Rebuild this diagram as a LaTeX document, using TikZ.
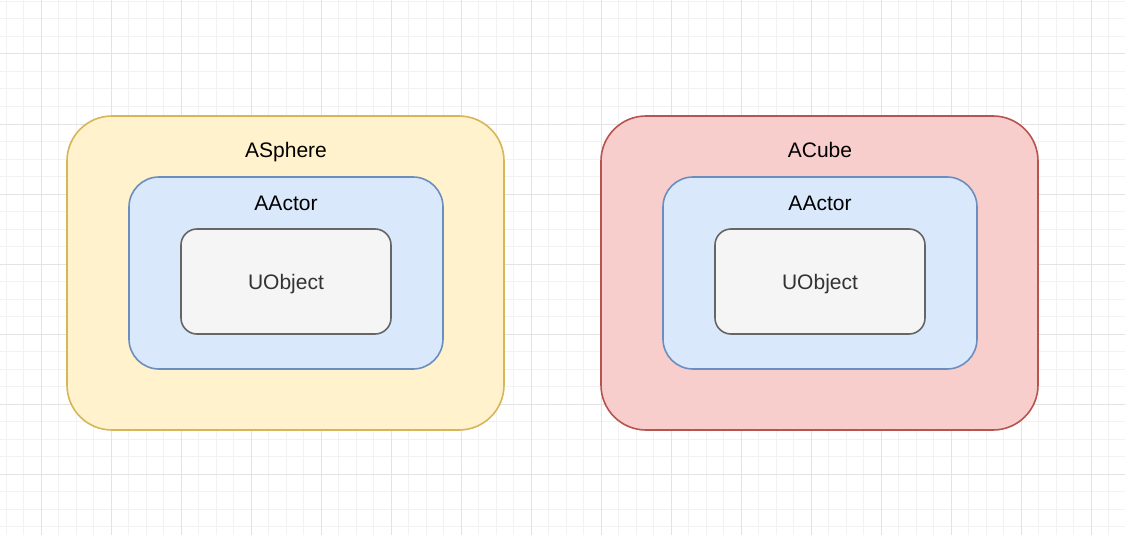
\documentclass[tikz,border=0pt]{standalone}
\usepackage{fontspec}
\setmainfont{Liberation Sans}
\definecolor{yfill}{HTML}{FFF2CC}
\definecolor{ydraw}{HTML}{D6B656}
\definecolor{bfill}{HTML}{DAE8FC}
\definecolor{bdraw}{HTML}{6C8EBF}
\definecolor{gfill}{HTML}{F5F5F5}
\definecolor{gdraw}{HTML}{666666}
\definecolor{gtext}{HTML}{333333}
\definecolor{rfill}{HTML}{F8CECC}
\definecolor{rdraw}{HTML}{B85450}
\definecolor{gridminor}{HTML}{F2F2F2}
\definecolor{gridmajor}{HTML}{E3E3E3}
\begin{document}
\begin{tikzpicture}[x=1pt,y=-1pt,
  boxbase/.style={line width=1.6pt},
  outerbox/.style={boxbase,rounded corners=45pt},
  midbox/.style={boxbase,rounded corners=30pt},
  innerbox/.style={boxbase,rounded corners=16pt,fill=gfill,draw=gdraw},
  lbl/.style={anchor=base,inner sep=0pt,font=\fontsize{21pt}{25pt}\selectfont},
  minorline/.style={gridminor,line width=1pt},
  majorline/.style={gridmajor,line width=1pt}]
\useasboundingbox (0,0) rectangle (1125,535);
\fill[white] (0,0) rectangle (1125,535);
% grid
\foreach \i in {0,...,64}{
  \pgfmathsetmacro{\xx}{6+17.5*\i}
  \draw[minorline] (\xx,0) -- (\xx,535);
}
\foreach \i in {0,...,30}{
  \pgfmathsetmacro{\yy}{1.5+17.5*\i}
  \draw[minorline] (0,\yy) -- (1125,\yy);
}
\foreach \i in {0,...,16}{
  \pgfmathsetmacro{\xx}{41+70*\i}
  \draw[majorline] (\xx,0) -- (\xx,535);
}
\foreach \i in {0,...,7}{
  \pgfmathsetmacro{\yy}{54+70*\i}
  \draw[majorline] (0,\yy) -- (1125,\yy);
}
% left group
\draw[outerbox,fill=yfill,draw=ydraw] (67,116) rectangle (504,430);
\draw[midbox,fill=bfill,draw=bdraw] (129,177) rectangle (443,369);
\draw[innerbox] (181,229) rectangle (391,334);
\node[lbl] (asphere) at (286,157.5) {ASphere};
\node[lbl] (aactorL) at (286,210) {AActor};
\node[lbl,text=gtext] (uobjL) at (286,289) {UObject};
% right group
\draw[outerbox,fill=rfill,draw=rdraw] (601,116) rectangle (1038,430);
\draw[midbox,fill=bfill,draw=bdraw] (663,177) rectangle (977,369);
\draw[innerbox] (715,229) rectangle (925,334);
\node[lbl] (acube) at (820,157.5) {ACube};
\node[lbl] (aactorR) at (820,210) {AActor};
\node[lbl,text=gtext] (uobjR) at (820,289) {UObject};
\end{tikzpicture}
\end{document}
